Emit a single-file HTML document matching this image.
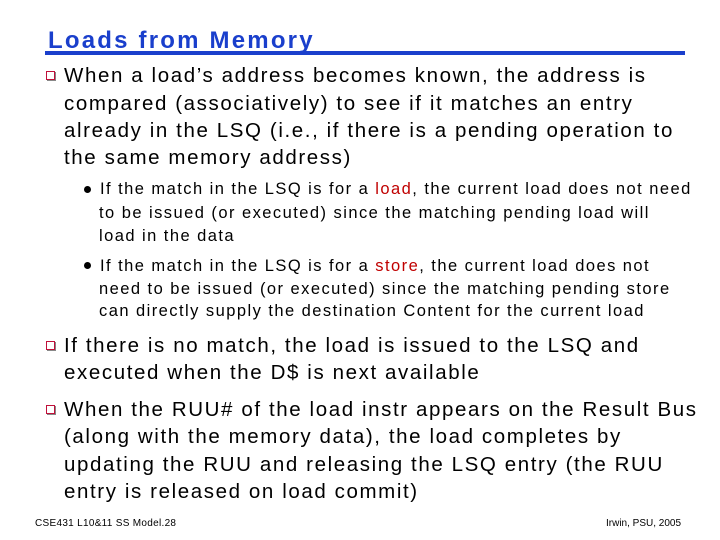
<!DOCTYPE html><html><head><style>
body{margin:0;width:720px;height:540px;background:#fff;position:relative;overflow:hidden;font-family:"Liberation Sans",Arial,sans-serif;color:#000}
.t{position:absolute;white-space:nowrap}
.m{font-size:20.5px;line-height:20px;letter-spacing:1.6px}
.s{font-size:16.5px;line-height:18px;letter-spacing:1.45px}
.b{position:absolute;width:7px;height:7px;border:1.5px solid #c0103a;background:#fff;box-shadow:1px 1px 0 #888}
.d{position:absolute;width:7px;height:7px;border-radius:50%;background:#000}
.r{color:#c00000}
</style></head><body>
<div class="t" style="left:48px;top:27px;font-size:24px;letter-spacing:2.2px;font-weight:bold;color:#1a3fcc">Loads from Memory</div>
<div style="position:absolute;left:45px;top:51px;width:640px;height:4px;background:#1a3fcc"></div>
<div class="b" style="left:46px;top:71px"></div>
<div class="t m" style="left:64px;top:66px">When a load’s address becomes known, the address is</div>
<div class="t m" style="left:64px;top:94px">compared (associatively) to see if it matches an entry</div>
<div class="t m" style="left:64px;top:121px">already in the LSQ (i.e., if there is a pending operation to</div>
<div class="t m" style="left:64px;top:148px">the same memory address)</div>
<div class="d" style="left:84px;top:186px"></div>
<div class="t s" style="left:100px;top:180px">If the match in the LSQ is for a <span class="r">load</span>, the current load does not need</div>
<div class="t s" style="left:99px;top:204px">to be issued (or executed) since the matching pending load will</div>
<div class="t s" style="left:99px;top:227px">load in the data</div>
<div class="d" style="left:84px;top:262px"></div>
<div class="t s" style="left:100px;top:257px">If the match in the LSQ is for a <span class="r">store</span>, the current load does not</div>
<div class="t s" style="left:99px;top:280px">need to be issued (or executed) since the matching pending store</div>
<div class="t s" style="left:99px;top:302px">can directly supply the destination Content for the current load</div>
<div class="b" style="left:46px;top:341px"></div>
<div class="t m" style="left:64px;top:336px">If there is no match, the load is issued to the LSQ and</div>
<div class="t m" style="left:64px;top:363px">executed when the D$ is next available</div>
<div class="b" style="left:46px;top:405px"></div>
<div class="t m" style="left:64px;top:400px">When the RUU# of the load instr appears on the Result Bus</div>
<div class="t m" style="left:64px;top:427px">(along with the memory data), the load completes by</div>
<div class="t m" style="left:64px;top:455px">updating the RUU and releasing the LSQ entry (the RUU</div>
<div class="t m" style="left:64px;top:482px">entry is released on load commit)</div>
<div class="t" style="left:35px;top:518px;font-size:10px;letter-spacing:0.3px">CSE431 L10&amp;11 SS Model.28</div>
<div class="t" style="left:606px;top:518px;font-size:10px">Irwin, PSU, 2005</div>
</body></html>
